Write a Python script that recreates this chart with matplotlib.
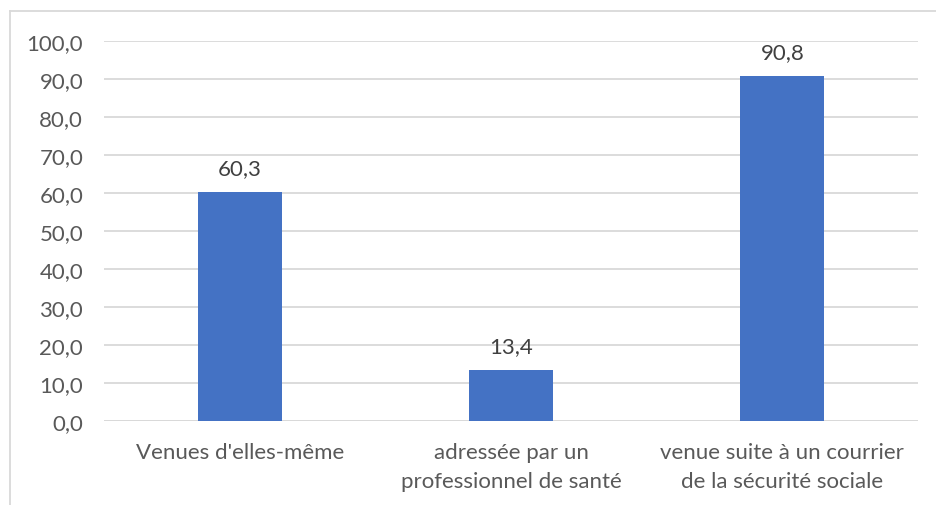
import matplotlib
matplotlib.use('Agg')
import matplotlib.pyplot as plt
from matplotlib.lines import Line2D
import numpy as np

# --- data --- #
categories = ["Venues d'elles-même",
              "adressée par un\nprofessionnel de santé",
              "venue suite à un courrier\nde la sécurité sociale"]
values = [60.3, 13.4, 90.8]
yticks = [0, 10, 20, 30, 40, 50, 60, 70, 80, 90, 100]

plt.rcParams['font.family'] = ['Lato', 'DejaVu Sans']
txt = '#595959'
grid = '#D9D9D9'

fig = plt.figure(figsize=(9.36, 5.06), dpi=100)
ax = fig.add_axes([104/936, 1 - 421.7/506, 814/936, (421.7 - 41.7)/506])

x = np.arange(len(values))
ax.bar(x, values, width=0.31, color='#4472C4', zorder=3)

# value labels
for xi, v in zip(x, values):
    ax.annotate(('%.1f' % v).replace('.', ','), (xi, v), xytext=(0, 10),
                textcoords='offset points', ha='center', va='bottom',
                fontsize=16, color='#404040')

ax.set_xlim(-0.5, len(values) - 0.5)
ax.set_ylim(0, 100)
ax.set_yticks(yticks)
ax.set_yticklabels([('%.1f' % t).replace('.', ',') for t in yticks])
ax.set_xticks(x)
ax.set_xticklabels(categories, linespacing=1.6)
ax.yaxis.grid(True, color=grid, linewidth=1.3, zorder=0)
ax.tick_params(axis='both', length=0, labelsize=16, labelcolor=txt)
ax.tick_params(axis='y', pad=15)
ax.tick_params(axis='x', pad=15)
for s in ax.spines.values():
    s.set_visible(False)
ax.axhline(0, color=grid, linewidth=1.3, zorder=2)

# chart border (only left and top are visible in the crop)
fig.add_artist(Line2D([10/936, 10/936], [0, 1 - 12/506], color=grid, lw=1.3,
                      transform=fig.transFigure))
fig.add_artist(Line2D([10/936, 1], [1 - 12/506, 1 - 12/506], color=grid, lw=1.3,
                      transform=fig.transFigure))

fig.savefig('out.png', dpi=100)
